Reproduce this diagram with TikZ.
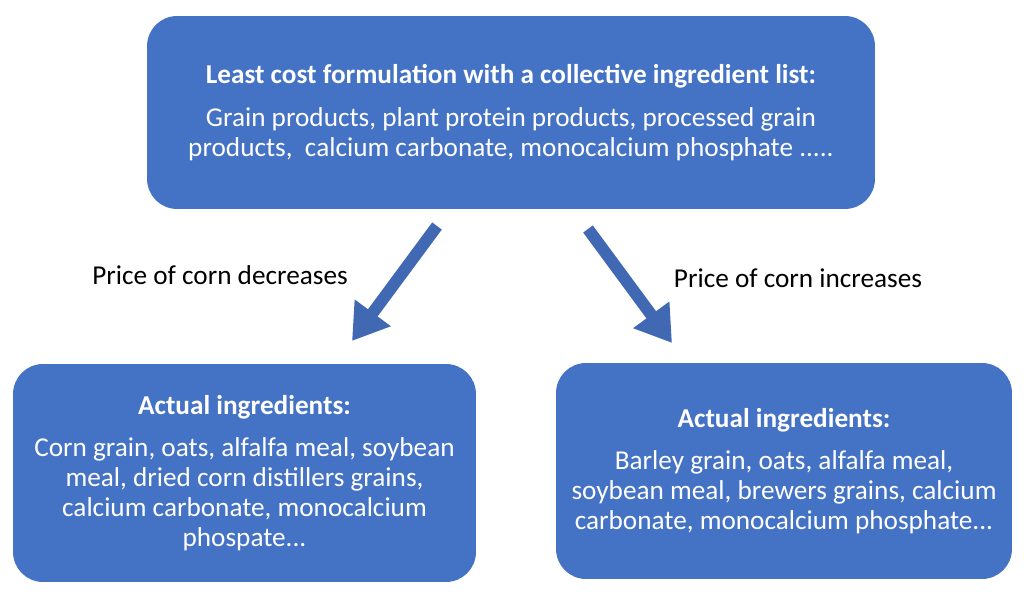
\documentclass[tikz,border=0pt]{standalone}
\usepackage{fontspec}
\setmainfont{Carlito}
\usetikzlibrary{arrows.meta}
\definecolor{boxblue}{HTML}{4472C4}
\definecolor{arrowblue}{HTML}{4169B3}
\begin{document}
\begin{tikzpicture}[x=0.02cm, y=-0.02cm,
  box/.style={fill=boxblue, rounded corners=0.6cm, text=white, align=center, inner sep=0pt,
    font=\fontsize{15.5}{17.1}\selectfont},
  pricelabel/.style={font=\fontsize{15.5}{17.1}\selectfont, text=black},
  bigarrow/.style={draw=arrowblue, line width=0.24cm, -{Triangle[width=0.85cm, length=0.7cm]}}]
\useasboundingbox (0,0) rectangle (1024,597);

\node[box, minimum width=14.56cm, minimum height=3.86cm] (formula) at (511,112.5)
  {\textbf{Least cost formulation with a collective ingredient list:}\\[7pt]
   Grain products, plant protein products, processed grain\\
   products,\ \ calcium carbonate, monocalcium phosphate .....};
\node[box, minimum width=9.26cm, minimum height=4.36cm] (cornlow) at (244.5,473)
  {\textbf{Actual ingredients:}\\[6.5pt]
   Corn grain, oats, alfalfa meal, soybean\\
   meal, dried corn distillers grains,\\
   calcium carbonate, monocalcium\\
   phospate...};
\node[box, minimum width=9.12cm, minimum height=4.32cm] (cornhigh) at (784,471)
  {\textbf{Actual ingredients:}\\[7pt]
   Barley grain, oats, alfalfa meal,\\
   soybean meal, brewers grains, calcium\\
   carbonate, monocalcium phosphate...};

\node[pricelabel] (decrease) at (220,275) {Price of corn decreases};
\node[pricelabel] (increase) at (798,278) {Price of corn increases};

\coordinate (dstart) at (437,226); \coordinate (dend) at (352,341);
\coordinate (istart) at (588,229); \coordinate (iend) at (672,343);
\draw[bigarrow] (dstart) -- (dend);
\draw[bigarrow] (istart) -- (iend);
\end{tikzpicture}
\end{document}
